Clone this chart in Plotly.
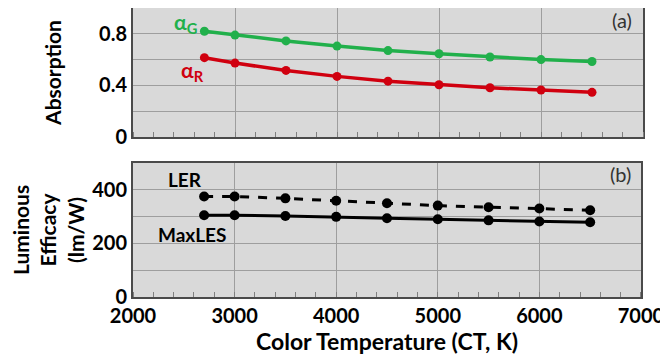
import plotly.graph_objects as go

ct = [2700, 3000, 3500, 4000, 4500, 5000, 5500, 6000, 6500]
alpha_g = [0.82, 0.79, 0.745, 0.705, 0.67, 0.645, 0.62, 0.60, 0.585]
alpha_r = [0.615, 0.573, 0.516, 0.47, 0.433, 0.405, 0.382, 0.364, 0.346]
ler = [375, 375, 368, 359, 350, 341, 335, 330, 324]
maxles = [305, 305, 302, 299, 294, 290, 286, 282, 279]

x_ticks = [2000, 3000, 4000, 5000, 6000, 7000]
abs_ticks = [0, 0.4, 0.8]
eff_ticks = [0, 200, 400]

GREEN = "#21b04b"
RED = "#d0000f"
BG = "#d9d9d9"
GRID = "#9e9e9e"
BORDER = "#4a4a4a"
TICKC = "#808080"
FONT = "Lato"

fig = go.Figure()
fig.add_trace(go.Scatter(x=ct, y=alpha_g, mode="lines+markers", xaxis="x2", yaxis="y2",
                         line=dict(color=GREEN, width=3.5), marker=dict(color=GREEN, size=9)))
fig.add_trace(go.Scatter(x=ct, y=alpha_r, mode="lines+markers", xaxis="x2", yaxis="y2",
                         line=dict(color=RED, width=3.5), marker=dict(color=RED, size=9)))
fig.add_trace(go.Scatter(x=ct, y=ler, mode="lines+markers", xaxis="x", yaxis="y",
                         line=dict(color="black", width=3, dash="dash"), marker=dict(color="black", size=10)))
fig.add_trace(go.Scatter(x=ct, y=maxles, mode="lines+markers", xaxis="x", yaxis="y",
                         line=dict(color="black", width=3), marker=dict(color="black", size=10)))

frame = dict(showline=True, mirror=True, linecolor=BORDER, linewidth=2,
             gridcolor=GRID, gridwidth=1, zeroline=False, ticks="", automargin=False)
tfont = dict(family=FONT, size=20, weight="bold", color="black")
titfont = dict(family=FONT, size=21, weight="bold", color="black")

# page body has an 8px margin, so the figure is 8px smaller than the window
fig.update_layout(
    width=660, height=353,
    margin=dict(l=125, r=25, t=0, b=64),
    paper_bgcolor="white", plot_bgcolor=BG,
    showlegend=False,
    font=dict(family=FONT, color="black", size=18),
    # bottom panel
    xaxis=dict(domain=[0, 0.996], anchor="y", range=[2000, 7000],
               tickvals=x_ticks, tickfont=tfont,
               minor=dict(ticks="inside", dtick=200, tick0=2000, ticklen=5, tickcolor=TICKC, showgrid=False),
               title=dict(text="Color Temperature (CT, K)", standoff=6,
                          font=dict(family=FONT, size=23, weight="bold", color="black")),
               **frame),
    yaxis=dict(domain=[0, 0.4637], anchor="x", range=[0, 500],
               tickvals=eff_ticks, tickfont=tfont,
               minor=dict(dtick=100, tick0=0, showgrid=True, gridcolor=GRID, ticks=""),
               title=dict(text="Luminous<br>Efficacy<br>(lm/W)", standoff=14, font=titfont),
               **frame),
    yaxis3=dict(overlaying="y", anchor="x", range=[0, 500], dtick=50, tick0=0,
                ticks="inside", ticklen=5, tickcolor=TICKC, showticklabels=False,
                showgrid=False, showline=False, zeroline=False, automargin=False),
    # top panel
    xaxis2=dict(domain=[0, 1.0], anchor="y2", range=[2000, 7000],
                tickvals=x_ticks, showticklabels=False,
                minor=dict(ticks="inside", dtick=200, tick0=2000, ticklen=5, tickcolor=TICKC, showgrid=False),
                **frame),
    yaxis2=dict(domain=[0.5536, 1.0], anchor="x2", range=[0, 1.0],
                tickvals=abs_ticks, tickfont=tfont,
                minor=dict(dtick=0.2, tick0=0, showgrid=True, gridcolor=GRID, ticks=""),
                title=dict(text="Absorption", standoff=32, font=titfont),
                **frame),
    yaxis4=dict(overlaying="y2", anchor="x2", range=[0, 1.0], dtick=0.1, tick0=0,
                ticks="inside", ticklen=5, tickcolor=TICKC, showticklabels=False,
                showgrid=False, showline=False, zeroline=False, automargin=False),
)

fig.add_annotation(x=2510, y=0.88, xref="x2", yref="y2", text="α<sub>G</sub>", showarrow=False,
                   font=dict(family=FONT, size=21, color=GREEN, weight="bold"))
fig.add_annotation(x=2580, y=0.51, xref="x2", yref="y2", text="α<sub>R</sub>", showarrow=False,
                   font=dict(family=FONT, size=21, color=RED, weight="bold"))
fig.add_annotation(x=6794, y=0.91, xref="x2", yref="y2", text="(a)", showarrow=False,
                   font=dict(family=FONT, size=20, color="#333"))
fig.add_annotation(x=2510, y=440, xref="x", yref="y", text="LER", showarrow=False,
                   font=dict(family=FONT, size=19, weight="bold"))
fig.add_annotation(x=2580, y=234, xref="x", yref="y", text="MaxLES", showarrow=False,
                   font=dict(family=FONT, size=19, weight="bold"))
fig.add_annotation(x=6794, y=459, xref="x", yref="y", text="(b)", showarrow=False,
                   font=dict(family=FONT, size=20, color="#333"))

fig.write_html("out.html")
